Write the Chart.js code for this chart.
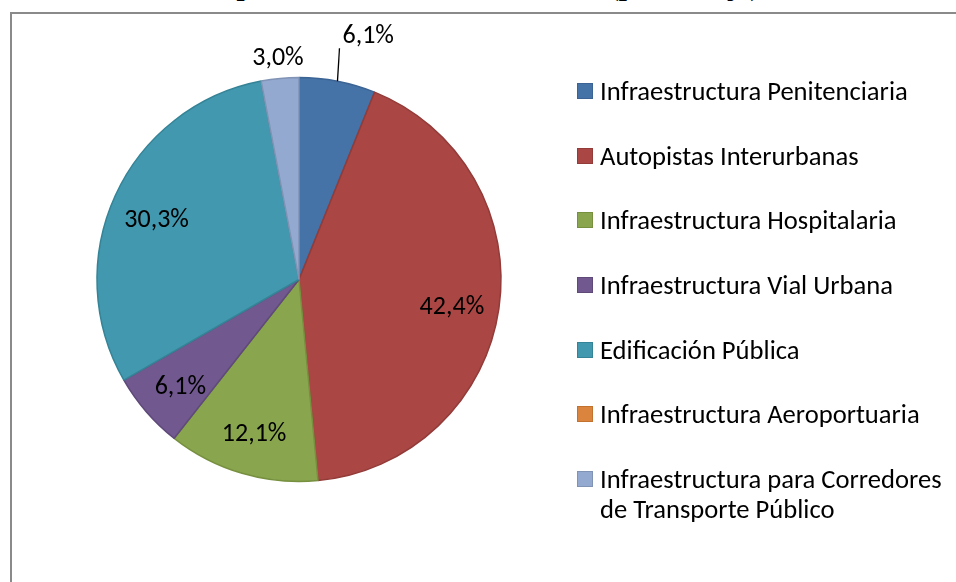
<!DOCTYPE html>
<html lang="es">
<head>
<meta charset="utf-8">
<script src="https://cdn.jsdelivr.net/npm/chart.js@4/dist/chart.umd.min.js"></script>
<style>
  html, body { margin: 0; padding: 0; background: #ffffff; overflow: hidden; }
  #stage { position: relative; width: 956px; height: 582px; overflow: hidden; background: #fff; }
  #frame { position: absolute; left: 10px; top: 12px; width: 1200px; height: 800px; border: 2px solid #8a8a8a; box-sizing: border-box; }
  #title { position: absolute; right: 196px; top: -30px; font-family: "Liberation Serif", "Times New Roman", serif; font-weight: bold; font-size: 29px; line-height: 30px; color: #000; white-space: nowrap; }
  #c { position: absolute; left: 0; top: 0; }
  #legend { position: absolute; left: 577px; top: 76px; font-family: Carlito, Calibri, Lato, sans-serif; font-size: 26.6px; line-height: 30px; color: #000; }
  .item { position: relative; padding-left: 23px; margin-bottom: 34.7px; }
  .box { position: absolute; left: 0; top: 7px; width: 16px; height: 16px; box-sizing: border-box; border: 1px solid; }
</style>
</head>
<body>
<div id="stage">
  <div id="frame"></div>
  <div id="title">Contratos por Sector de Infraestructura (porcentaje)</div>
  <canvas id="c" width="956" height="582"></canvas>
  <div id="legend"></div>
</div>
<script>
// ---- data ----
const categories = [
  "Infraestructura Penitenciaria",
  "Autopistas Interurbanas",
  "Infraestructura Hospitalaria",
  "Infraestructura Vial Urbana",
  "Edificación Pública",
  "Infraestructura Aeroportuaria",
  "Infraestructura para Corredores de Transporte Público"
];
const legendLines = [
  ["Infraestructura Penitenciaria"],
  ["Autopistas Interurbanas"],
  ["Infraestructura Hospitalaria"],
  ["Infraestructura Vial Urbana"],
  ["Edificación Pública"],
  ["Infraestructura Aeroportuaria"],
  ["Infraestructura para Corredores", "de Transporte Público"]
];
const shares = [6.1, 42.4, 12.1, 6.1, 30.3, 0, 3.0];

// ---- styles ----
const fills   = ["#4572A7", "#AA4643", "#89A54E", "#71588F", "#4198AF", "#DB843D", "#93A9CF"];
const borders = ["#3B6494", "#923B39", "#76903F", "#5E4979", "#358396", "#C2712F", "#8093B5"];

const fmt = v => v.toFixed(1).replace('.', ',') + '%';

// label placement: 'in' = inside at fraction of radius, 'lead' = outside with leader, 'out' = just outside
const labelMode = ['lead', 'in', 'in', 'in', 'in', 'none', 'out'];

const labelPlugin = {
  id: 'pieLabels',
  afterDatasetsDraw(chart) {
    const ctx = chart.ctx;
    const meta = chart.getDatasetMeta(0);
    ctx.save();
    ctx.font = '26px Carlito, Calibri, Lato, sans-serif';
    ctx.fillStyle = '#000';
    ctx.textBaseline = 'middle';
    meta.data.forEach((arc, i) => {
      const v = shares[i];
      if (!v || labelMode[i] === 'none') return;
      const p = arc.getProps(['x', 'y', 'startAngle', 'endAngle', 'outerRadius'], true);
      const mid = (p.startAngle + p.endAngle) / 2;
      const cx = Math.cos(mid), sy = Math.sin(mid);
      const txt = fmt(v);
      if (labelMode[i] === 'in') {
        const r = p.outerRadius * 0.77;
        ctx.textAlign = 'center';
        ctx.fillText(txt, p.x + cx * r - 1, p.y + sy * r + 6);
      } else if (labelMode[i] === 'out') {
        const ex = p.x + cx * p.outerRadius, ey = p.y + sy * p.outerRadius;
        ctx.textAlign = 'center';
        ctx.fillText(txt, ex - 2, ey - 20);
      } else {
        const ex = p.x + cx * p.outerRadius, ey = p.y + sy * p.outerRadius;
        ctx.strokeStyle = '#000';
        ctx.lineWidth = 1.3;
        ctx.beginPath();
        ctx.moveTo(ex, ey);
        ctx.lineTo(ex + 2, ey - 33);
        ctx.stroke();
        ctx.textAlign = 'left';
        ctx.fillText(txt, ex + 5, ey - 45);
      }
    });
    ctx.restore();
  }
};

new Chart(document.getElementById('c'), {
  type: 'pie',
  data: {
    labels: categories,
    datasets: [{
      data: shares,
      backgroundColor: fills,
      borderColor: borders,
      borderWidth: 1.5,
      radius: 202
    }]
  },
  options: {
    responsive: false,
    animation: false,
    layout: { padding: { left: 97, right: 455, top: 77, bottom: 100 } },
    plugins: { legend: { display: false }, tooltip: { enabled: false } }
  },
  plugins: [labelPlugin]
});

// HTML legend built from the data arrays
const lg = document.getElementById('legend');
legendLines.forEach((lines, i) => {
  const it = document.createElement('div');
  it.className = 'item';
  const b = document.createElement('span');
  b.className = 'box';
  b.style.background = fills[i];
  b.style.borderColor = borders[i];
  it.appendChild(b);
  lines.forEach((t, k) => {
    if (k) it.appendChild(document.createElement('br'));
    it.appendChild(document.createTextNode(t));
  });
  lg.appendChild(it);
});
</script>
</body>
</html>
